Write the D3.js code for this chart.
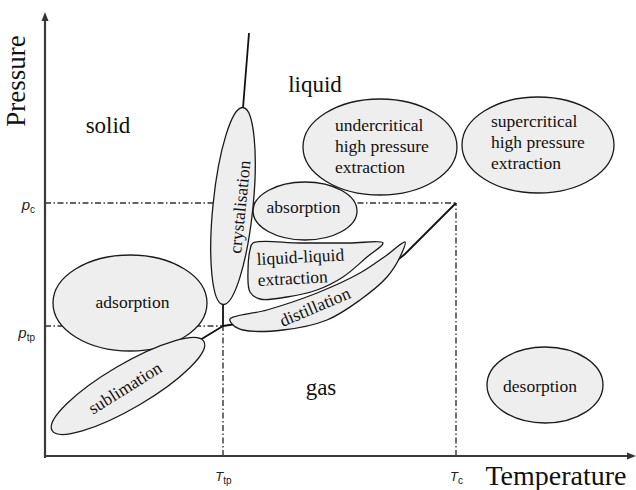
<!DOCTYPE html>
<html><head><meta charset="utf-8">
<script src="https://cdn.jsdelivr.net/npm/d3@7"></script>
<style>body{margin:0;background:#fff}svg{display:block}</style>
</head><body>
<svg id="c" width="636" height="490"></svg>
<script>
// ---- data (schematic T / p units) ----
const axisTitles = ["Temperature", "Pressure"];
const tickT = [178, 411];
const tickTSub = ["tp", "c"];
const tickP = [253, 130];
const tickPSub = ["c", "tp"];
const triplePoint = [178, 130];
const criticalPoint = [411, 253];
const meltingCurve = [[178,130],[178,150],[198,348],[204,423]];
const vaporCurve = [[178,130],[191,132],[255,142],[315,166],[360,202],[411,253]];
const sublimationCurve = [[178,130],[155,116],[8,24]];
const phaseNames = ["solid", "liquid", "gas"];
const phaseT = [63, 270, 276];
const phaseP = [323, 364, 61];
// ellipses: centre T, centre p, half-width T, half-height p, tilt
const ellNames = ["undercritical","supercritical","absorption","adsorption","sublimation","crystalisation","desorption"];
const ellT  = [335, 493, 260, 85, 83, 188, 500];
const ellP  = [309, 311, 245, 153, 70, 250, 71];
const ellRT = [77, 76, 52, 77, 88, 20, 58];
const ellRP = [48, 48, 29, 48, 22, 99, 38];
const ellTilt = [0, 0, 0, 0, -30.4, 5.8, 0];
const llOutline = [[208,213],[255,213],[305,213],[338,213],[322,199],[298,179],[272,166],[242,159],[215,157],[205,164],[203,186],[205,206]];
const distOutline = [[185,137],[222,146],[272,163],[315,183],[342,201],[360,214],[355,199],[342,179],[315,156],[282,136],[238,126],[198,126],[188,131]];
// labels: lines, anchor T, anchor p, text-anchor, rotation
const labLines = [["undercritical","high pressure","extraction"],["supercritical","high pressure","extraction"],["absorption"],["adsorption"],["sublimation"],["crystalisation"],["desorption"],["liquid-liquid","extraction"],["distillation"]];
const labT = [290, 446, 258.5, 87.5, 80, 195, 495, 212, 270];
const labP = [325, 329, 243, 148, 68, 249, 64, 191, 149];
const labAnchor = ["start","start","middle","middle","middle","middle","middle","start","middle"];
const labRot = [0, 0, 0, 0, -32, -84.2, 0, -3, -23];
const labCentral = [false,false,false,false,true,true,false,false,true];

// ---- scales ----
const x = d3.scaleLinear().domain([0, 582]).range([45, 627]);
const y = d3.scaleLinear().domain([0, 435]).range([456, 21]);
const svg = d3.select("#c");
const serif = "'Liberation Serif','Times New Roman',serif";
const sans = "'Liberation Sans',Arial,sans-serif";

svg.append("defs").append("marker").attr("id","arr").attr("viewBox","0 -4 9 8")
  .attr("refX",0).attr("refY",0).attr("markerWidth",9).attr("markerHeight",8)
  .attr("markerUnits","userSpaceOnUse").attr("orient","auto")
  .append("path").attr("d","M0,-3.5L9,0L0,3.5Z").attr("fill","#333");

const line = d3.line().x(d => x(d[0])).y(d => y(d[1]));

// dash-dot reference lines
const refs = [
  [[0, criticalPoint[1]], criticalPoint],
  [[criticalPoint[0], 0], criticalPoint],
  [[0, triplePoint[1]], triplePoint],
  [[triplePoint[0], 0], triplePoint]
];
svg.append("g").selectAll("path").data(refs).join("path")
  .attr("d", line).attr("fill","none").attr("stroke","#333")
  .attr("stroke-width",1.4).attr("stroke-dasharray","6,2.5,1.5,2.5");

// phase boundaries
svg.append("g").selectAll("path").data([meltingCurve, vaporCurve, sublimationCurve]).join("path")
  .attr("d", line).attr("fill","none").attr("stroke","#111").attr("stroke-width",1.8);

// process regions
const fill = "#eeeeee", stroke = "#1a1a1a";
const shapes = svg.append("g");
const closed = d3.line().x(d => x(d[0])).y(d => y(d[1])).curve(d3.curveCatmullRomClosed.alpha(0.5));
shapes.append("path").attr("d", closed(llOutline)).attr("fill",fill).attr("stroke",stroke).attr("stroke-width",1.3);
shapes.append("path").attr("d", closed(distOutline)).attr("fill",fill).attr("stroke",stroke).attr("stroke-width",1.3);
ellNames.forEach((n, i) => {
  shapes.append("ellipse")
    .attr("transform", `translate(${x(ellT[i])},${y(ellP[i])}) rotate(${ellTilt[i]})`)
    .attr("rx", x(ellRT[i]) - x(0)).attr("ry", y(0) - y(ellRP[i]))
    .attr("fill", fill).attr("stroke", stroke).attr("stroke-width", 1.3);
});

// process labels
labLines.forEach((lines, i) => {
  const t = svg.append("text")
    .attr("transform", `translate(${x(labT[i])},${y(labP[i])}) rotate(${labRot[i]})`)
    .attr("text-anchor", labAnchor[i]).attr("font-family", serif)
    .attr("font-size", 17.5).attr("fill", "#111");
  lines.forEach((s, j) => {
    t.append("tspan").attr("x", 0).attr("y", j * 21)
      .attr("dy", labCentral[i] ? "0.33em" : 0).text(s);
  });
});

// phase names
svg.append("g").selectAll("text").data(phaseNames).join("text")
  .attr("x", (d, i) => x(phaseT[i])).attr("y", (d, i) => y(phaseP[i]))
  .attr("text-anchor","middle").attr("font-family", serif).attr("font-size", 23)
  .attr("fill","#111").text(d => d);

// axes
const xAxis = svg.append("g").attr("transform", `translate(0,${y(0)})`)
  .call(d3.axisBottom(x).tickValues(tickT).tickSize(0).tickPadding(16).tickFormat(() => ""));
xAxis.select(".domain").remove();
xAxis.selectAll(".tick text").each(function(d, i) {
  const t = d3.select(this).attr("font-family", sans).attr("fill", "#222").attr("font-size", 13);
  t.append("tspan").attr("font-style","italic").text("T");
  t.append("tspan").attr("font-size", 10).attr("dy", 3).text(tickTSub[i]);
});
const yAxis = svg.append("g").attr("transform", `translate(${x(0)},0)`)
  .call(d3.axisLeft(y).tickValues(tickP).tickSize(0).tickPadding(10).tickFormat(() => ""));
yAxis.select(".domain").remove();
yAxis.selectAll(".tick text").each(function(d, i) {
  const t = d3.select(this).attr("font-family", sans).attr("fill", "#222").attr("font-size", 15)
    .attr("dy", i === 1 ? "0.75em" : "0.4em");
  t.append("tspan").attr("font-style","italic").text("p");
  t.append("tspan").attr("font-size", 10).attr("dy", 3).text(tickPSub[i]);
});
svg.append("path").attr("d", line([[0,0],[582,0]])).attr("stroke","#3a3a3a").attr("stroke-width",2.2).attr("marker-end","url(#arr)");
svg.append("path").attr("d", line([[0,-2],[0,435]])).attr("stroke","#3a3a3a").attr("stroke-width",2.2).attr("marker-end","url(#arr)");

svg.append("text").attr("x", 556).attr("y", 485).attr("text-anchor","middle")
  .attr("font-family", serif).attr("font-size", 28).attr("fill","#111").text(axisTitles[0]);
svg.append("text").attr("transform","translate(25,81) rotate(-90)").attr("text-anchor","middle")
  .attr("font-family", serif).attr("font-size", 27).attr("fill","#111").text(axisTitles[1]);
</script>
</body></html>
